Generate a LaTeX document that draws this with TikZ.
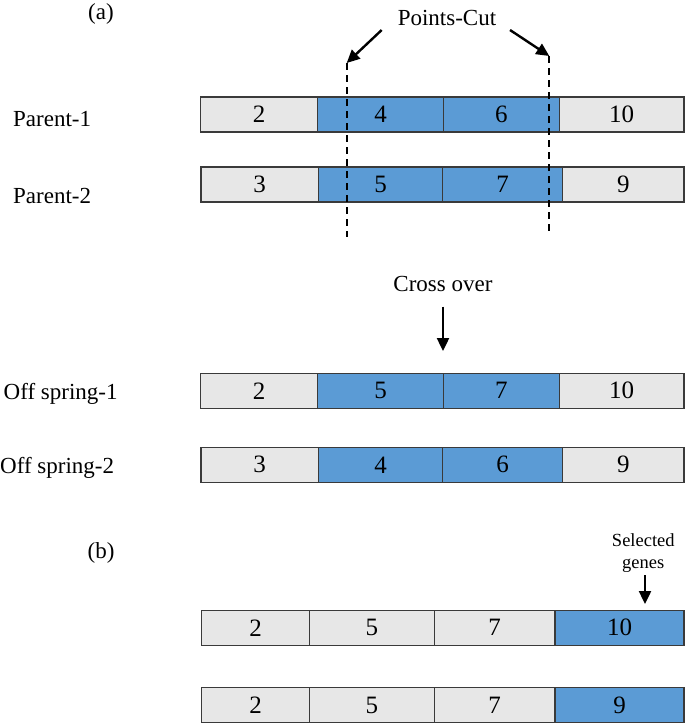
\documentclass[tikz,border=0pt]{standalone}
\usepackage{fontspec}
\setmainfont{Liberation Serif}
\usepackage{xcolor}
\usetikzlibrary{arrows.meta}
\definecolor{geneblue}{HTML}{5B9BD5}
\definecolor{genegray}{HTML}{E7E7E7}
\definecolor{geneedge}{HTML}{3A3A3A}
\newcommand{\genefont}{\fontsize{23}{27}\selectfont}
\newcommand{\numfont}{\fontsize{25}{29}\selectfont}
\newcommand{\notefont}{\fontsize{18.5}{22}\selectfont}
\tikzstyle{gene}=[draw=geneedge, fill=genegray, shape=rectangle, line width=1.2pt, inner sep=0pt, outer sep=0pt, minimum height=35pt, font=\numfont]
\tikzstyle{blue gene}=[gene, fill=geneblue]
\tikzstyle{row label}=[anchor=base west, inner sep=0pt, font=\genefont]
\tikzstyle{title}=[anchor=base, inner sep=0pt, font=\genefont]
\tikzstyle{cut}=[line width=2pt, dash pattern=on 7pt off 5pt]
\tikzstyle{arrow}=[line width=2.4pt, -{Triangle[length=13pt,width=12pt]}]

\begin{document}
\begin{tikzpicture}[x=1pt, y=-1pt]
    \useasboundingbox (0,0) rectangle (685,723);
    % part (a): parents
    \node [title] (a) at (101, 19) {(a)};
    \node [title] (pointscut) at (447, 25) {Points-Cut};
    \node [row label] (parent1) at (13, 126) {Parent-1};
    \node [row label] (parent2) at (13, 203) {Parent-2};
    \node [gene, minimum width=117pt] (p1-1) at (259.2, 114.5) {2};
    \node [blue gene, minimum width=125.6pt] (p1-2) at (380.5, 114.5) {4};
    \node [blue gene, minimum width=116pt] (p1-3) at (501.3, 114.5) {6};
    \node [gene, minimum width=124.7pt] (p1-4) at (621.6, 114.5) {10};
    \node [gene, minimum width=117.3pt] (p2-1) at (259.7, 184.5) {3};
    \node [blue gene, minimum width=124.4pt] (p2-2) at (380.5, 184.5) {5};
    \node [blue gene, minimum width=120pt] (p2-3) at (502.7, 184.5) {7};
    \node [gene, minimum width=121.3pt] (p2-4) at (623.3, 184.5) {9};
    % cut points
    \coordinate (cut1 top) at (346.7, 63);
    \coordinate (cut1 bot) at (346.7, 237);
    \coordinate (cut2 top) at (549.3, 56);
    \coordinate (cut2 bot) at (549.3, 232);
    \coordinate (cut1 from) at (381.7, 30);
    \coordinate (cut2 from) at (510, 30);
    \draw [cut] (cut1 top) -- (cut1 bot);
    \draw [cut] (cut2 top) -- (cut2 bot);
    \draw [arrow] (cut1 from) -- (cut1 top);
    \draw [arrow] (cut2 from) -- (cut2 top);
    % crossover
    \node [title] (crossover) at (443, 291.7) {Cross over};
    \coordinate (co from) at (443, 306.7);
    \coordinate (co to) at (443, 351);
    \draw [arrow] (co from) -- (co to);
    \node [row label] (off1) at (3.5, 399) {Off spring-1};
    \node [row label] (off2) at (0, 473) {Off spring-2};
    \node [gene, minimum width=117pt] (o1-1) at (259.2, 390.8) {2};
    \node [blue gene, minimum width=125.6pt] (o1-2) at (380.5, 390.8) {5};
    \node [blue gene, minimum width=116pt] (o1-3) at (501.3, 390.8) {7};
    \node [gene, minimum width=124.7pt] (o1-4) at (621.6, 390.8) {10};
    \node [gene, minimum width=117.3pt] (o2-1) at (259.7, 464.8) {3};
    \node [blue gene, minimum width=124.4pt] (o2-2) at (380.5, 464.8) {4};
    \node [blue gene, minimum width=120pt] (o2-3) at (502.7, 464.8) {6};
    \node [gene, minimum width=121.3pt] (o2-4) at (623.3, 464.8) {9};
    % part (b): selected genes
    \node [title] (b) at (101, 558) {(b)};
    \node [title, font=\notefont, align=center] (selected) at (643.3, 568) {Selected\\genes};
    \coordinate (sel from) at (645, 575);
    \coordinate (sel to) at (645, 604);
    \draw [arrow] (sel from) -- (sel to);
    \node [gene, minimum width=107.6pt] (s1-1) at (255.5, 627.8) {2};
    \node [gene, minimum width=125pt] (s1-2) at (371.8, 627.8) {5};
    \node [gene, minimum width=120.7pt] (s1-3) at (494.6, 627.8) {7};
    \node [blue gene, minimum width=129pt] (s1-4) at (619.5, 627.8) {10};
    \node [gene, minimum width=107.6pt] (s2-1) at (255.5, 705) {2};
    \node [gene, minimum width=125pt] (s2-2) at (371.8, 705) {5};
    \node [gene, minimum width=120.7pt] (s2-3) at (494.6, 705) {7};
    \node [blue gene, minimum width=129pt] (s2-4) at (619.5, 705) {9};
\end{tikzpicture}
\end{document}
